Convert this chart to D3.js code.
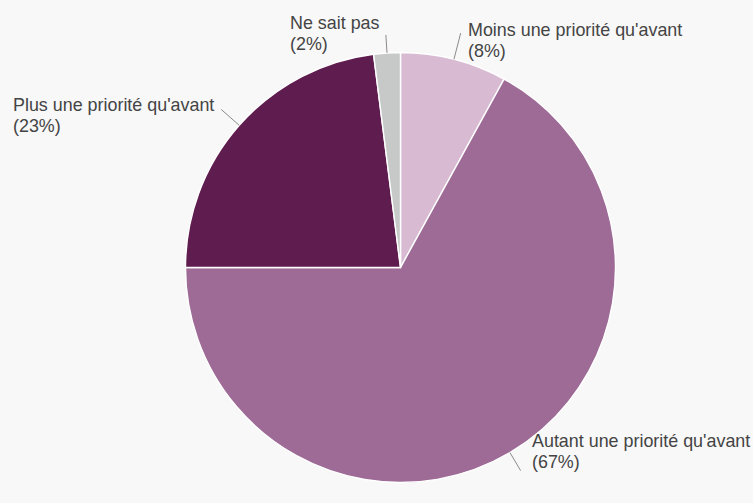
<!DOCTYPE html>
<html>
<head>
<meta charset="utf-8">
<script src="https://cdn.jsdelivr.net/npm/d3@7"></script>
<style>
  html, body { margin: 0; padding: 0; background: #f8f8f8; }
  svg { display: block; }
  text { font-family: "Liberation Sans", Arial, sans-serif; font-size: 17.9px; fill: #444; }
</style>
</head>
<body>
<svg id="chart" width="753" height="503"></svg>
<script>
// Answers, clockwise from 12 o'clock
const categories = [
  "Moins une priorité qu'avant",
  "Autant une priorité qu'avant",
  "Plus une priorité qu'avant",
  "Ne sait pas"
];
const percents = [8, 67, 23, 2];
const colors = ["#d8bad3", "#9d6b96", "#5f1c4f", "#c7c8c8"];

// Label block placement (baseline of first line) and leader length
const labelLayout = [
  { x: 468, y: 36,  lead: 27 },
  { x: 532, y: 447, lead: 21 },
  { x: 13,  y: 111, lead: 24 },
  { x: 290, y: 29,  lead: 18 }
];

const width = 753, height = 503;
const cx = 400.5, cy = 267.5, radius = 215;
const lineGap = 21;

const svg = d3.select("#chart");
svg.append("rect").attr("width", width).attr("height", height).attr("fill", "#f8f8f8");

const g = svg.append("g").attr("transform", `translate(${cx},${cy})`);

const data = categories.map((c, i) => ({ name: c, value: percents[i], color: colors[i], layout: labelLayout[i] }));

const pie = d3.pie().value(d => d.value).sort(null);
const arc = d3.arc().innerRadius(0).outerRadius(radius);
const arcs = pie(data);

g.selectAll("path.slice")
  .data(arcs)
  .join("path")
  .attr("class", "slice")
  .attr("d", arc)
  .attr("fill", d => d.data.color)
  .attr("stroke", "#ffffff")
  .attr("stroke-width", 1.4);

// Leader lines from the slice rim outward along the mid-angle
g.selectAll("line.leader")
  .data(arcs)
  .join("line")
  .attr("class", "leader")
  .each(function(d) {
    const a = (d.startAngle + d.endAngle) / 2;
    const r1 = radius, r2 = radius + d.data.layout.lead;
    d3.select(this)
      .attr("x1", r1 * Math.sin(a)).attr("y1", -r1 * Math.cos(a))
      .attr("x2", r2 * Math.sin(a)).attr("y2", -r2 * Math.cos(a));
  })
  .attr("stroke", "#8a8a8a")
  .attr("stroke-width", 1);

const labels = svg.selectAll("text.label")
  .data(arcs)
  .join("text")
  .attr("class", "label")
  .attr("x", d => d.data.layout.x)
  .attr("y", d => d.data.layout.y);

labels.append("tspan")
  .attr("x", d => d.data.layout.x)
  .text(d => d.data.name);
labels.append("tspan")
  .attr("x", d => d.data.layout.x)
  .attr("dy", lineGap)
  .text(d => `(${d.data.value}%)`);
</script>
</body>
</html>
